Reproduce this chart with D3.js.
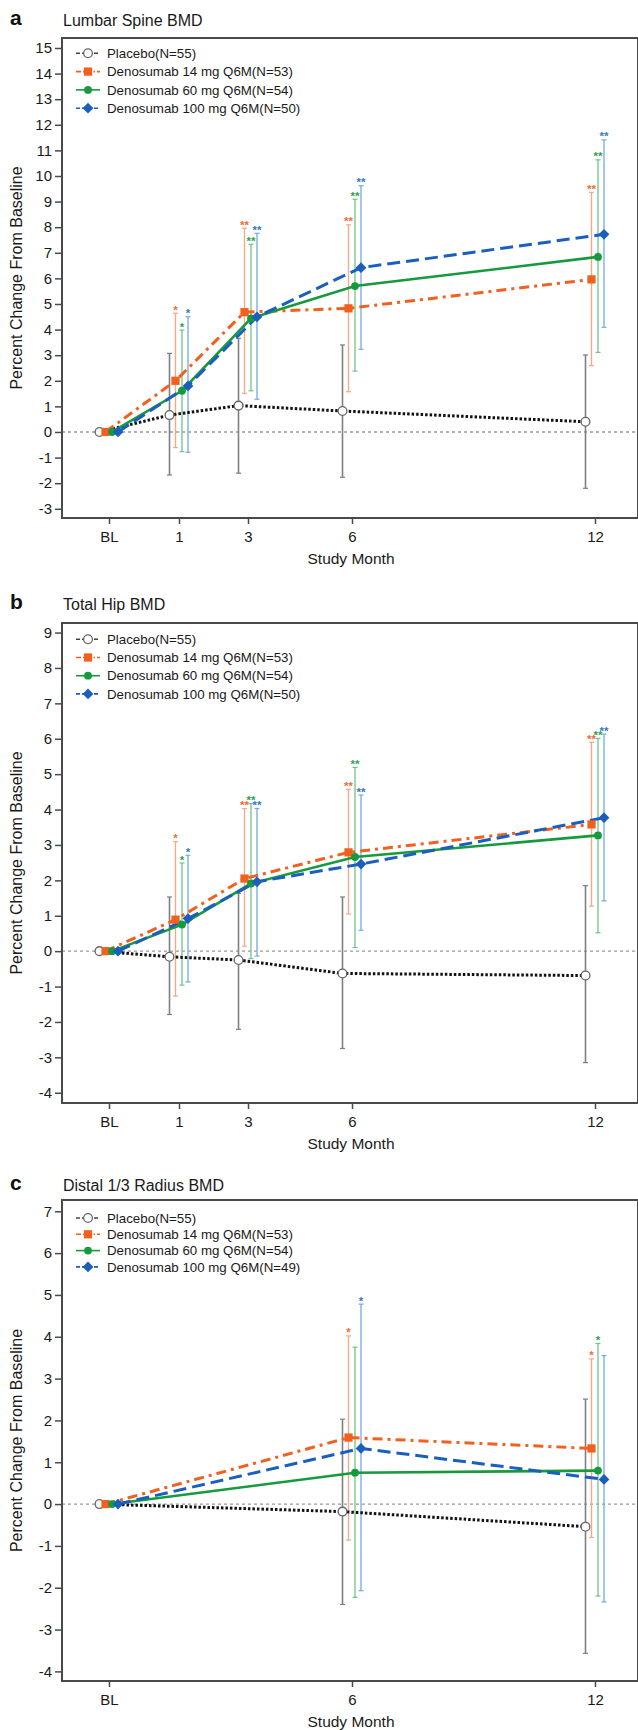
<!DOCTYPE html>
<html>
<head>
<meta charset="utf-8">
<script src="https://cdn.jsdelivr.net/npm/d3@7"></script>
<style>
  body { margin: 0; background: #fff; }
  svg { display: block; font-family: 'Liberation Sans', Arial, sans-serif; }
</style>
</head>
<body>
<div id="chart"></div>
<script>
// study months and labels
var months = [0, 1, 3, 6, 12]
var monthLabels = ['BL', '1', '3', '6', '12']
var radiusMonths = [0, 6, 12]
var radiusMonthLabels = ['BL', '6', '12']

var groupNames = ['Placebo(N=55)', 'Denosumab 14 mg Q6M(N=53)', 'Denosumab 60 mg Q6M(N=54)', 'Denosumab 100 mg Q6M(N=50)']
var radiusGroupNames = ['Placebo(N=55)', 'Denosumab 14 mg Q6M(N=53)', 'Denosumab 60 mg Q6M(N=54)', 'Denosumab 100 mg Q6M(N=49)']

// a: lumbar spine (mean, lower, upper)
var spinePlacebo = [0, 0.66, 1.03, 0.82, 0.40]
var spinePlaceboLow = [null, -1.68, -1.61, -1.77, -2.20]
var spinePlaceboHigh = [null, 3.07, 3.66, 3.40, 3.01]
var spine14 = [0, 2.00, 4.68, 4.83, 5.96]
var spine14Low = [null, -0.61, 1.51, 1.57, 2.59]
var spine14High = [null, 4.64, 7.96, 8.09, 9.36]
var spine60 = [0, 1.61, 4.44, 5.70, 6.84]
var spine60Low = [null, -0.77, 1.61, 2.38, 3.11]
var spine60High = [null, 3.98, 7.33, 9.09, 10.63]
var spine100 = [0, 1.80, 4.50, 6.42, 7.72]
var spine100Low = [null, -0.79, 1.28, 3.23, 4.09]
var spine100High = [null, 4.50, 7.76, 9.62, 11.41]
var spineStars = ['', '*', '**', '**', '**']

// b: total hip
var hipPlacebo = [0, -0.16, -0.25, -0.63, -0.69]
var hipPlaceboLow = [null, -1.79, -2.21, -2.75, -3.15]
var hipPlaceboHigh = [null, 1.53, 1.63, 1.53, 1.85]
var hip14 = [0, 0.89, 2.05, 2.79, 3.58]
var hip14Low = [null, -1.27, 0.14, 1.05, 1.27]
var hip14High = [null, 3.09, 4.03, 4.57, 5.90]
var hip60 = [0, 0.75, 1.91, 2.66, 3.27]
var hip60Low = [null, -0.96, -0.21, 0.10, 0.52]
var hip60High = [null, 2.49, 4.17, 5.19, 6.01]
var hip100 = [0, 0.92, 1.96, 2.46, 3.77]
var hip100Low = [null, -0.87, -0.14, 0.59, 1.42]
var hip100High = [null, 2.71, 4.03, 4.41, 6.13]
var hipStars = ['', '*', '**', '**', '**']

// c: distal 1/3 radius
var radiusPlacebo = [0, -0.18, -0.54]
var radiusPlaceboLow = [null, -2.40, -3.57]
var radiusPlaceboHigh = [null, 2.03, 2.51]
var radius14 = [0, 1.59, 1.33]
var radius14Low = [null, -0.86, -0.80]
var radius14High = [null, 4.02, 3.47]
var radius60 = [0, 0.75, 0.80]
var radius60Low = [null, -2.23, -2.20]
var radius60High = [null, 3.75, 3.84]
var radius100 = [0, 1.33, 0.59]
var radius100Low = [null, -2.07, -2.34]
var radius100High = [null, 4.78, 3.55]
var radius14Stars = ['', '*', '*']
var radius60Stars = ['', '', '*']
var radius100Stars = ['', '*', '']

var spineTicks = d3.range(-3, 16)
var hipTicks = d3.range(-4, 10)
var radiusTicks = d3.range(-4, 8)

function series(name, ms, mean, low, high, stars) {
  return {
    name: name,
    values: ms.map(function(m, i) {
      return { month: m, mean: mean[i], low: low[i], high: high[i], star: stars ? stars[i] : '' }
    })
  }
}

var panels = [
  {
    letter: 'a', title: 'Lumbar Spine BMD', top: 38, bottom: 518, titleY: 26,
    yDomain: [-3.36, 15.39], ticks: spineTicks, months: months, labels: monthLabels,
    legendStart: 15.3, legendStep: 18.3,
    series: [
      series(groupNames[0], months, spinePlacebo, spinePlaceboLow, spinePlaceboHigh),
      series(groupNames[1], months, spine14, spine14Low, spine14High, spineStars),
      series(groupNames[2], months, spine60, spine60Low, spine60High, spineStars),
      series(groupNames[3], months, spine100, spine100Low, spine100High, spineStars)
    ]
  },
  {
    letter: 'b', title: 'Total Hip BMD', top: 623, bottom: 1103, titleY: 610,
    yDomain: [-4.29, 9.27], ticks: hipTicks, months: months, labels: monthLabels,
    legendStart: 16.3, legendStep: 18.2,
    series: [
      series(groupNames[0], months, hipPlacebo, hipPlaceboLow, hipPlaceboHigh),
      series(groupNames[1], months, hip14, hip14Low, hip14High, hipStars),
      series(groupNames[2], months, hip60, hip60Low, hip60High, hipStars),
      series(groupNames[3], months, hip100, hip100Low, hip100High, hipStars)
    ]
  },
  {
    letter: 'c', title: 'Distal 1/3 Radius BMD', top: 1200, bottom: 1681, titleY: 1191,
    yDomain: [-4.23, 7.27], ticks: radiusTicks, months: radiusMonths, labels: radiusMonthLabels,
    legendStart: 18, legendStep: 16.3,
    series: [
      series(radiusGroupNames[0], radiusMonths, radiusPlacebo, radiusPlaceboLow, radiusPlaceboHigh),
      series(radiusGroupNames[1], radiusMonths, radius14, radius14Low, radius14High, radius14Stars),
      series(radiusGroupNames[2], radiusMonths, radius60, radius60Low, radius60High, radius60Stars),
      series(radiusGroupNames[3], radiusMonths, radius100, radius100Low, radius100High, radius100Stars)
    ]
  }
]

var styles = [
  { line: '#111', dash: '2.5 2', width: 3, legendLine: '#444', legendDash: '4 2', err: '#7f7f7f', errWidth: 1.6, fill: '#fff', stroke: '#666', symbol: d3.symbolCircle, size: 60, rotate: 0, star: '#666' },
  { line: '#f2601f', dash: '10 5 3 5', width: 3, legendLine: '#f2601f', legendDash: '5 2 1.5 2', err: '#f8a685', errWidth: 1.3, fill: '#f2601f', stroke: 'none', symbol: d3.symbolSquare, size: 68, rotate: 0, star: '#f26a33' },
  { line: '#159a3d', dash: null, width: 2.6, legendLine: '#159a3d', legendDash: null, err: '#6fc48a', errWidth: 1.3, fill: '#159a3d', stroke: 'none', symbol: d3.symbolCircle, size: 48, rotate: 0, star: '#2ea24f' },
  { line: '#1b5fbe', dash: '13 6', width: 3, legendLine: '#1b5fbe', legendDash: '4 2', err: '#74a9dd', errWidth: 1.3, fill: '#1b5fbe', stroke: 'none', symbol: d3.symbolSquare, size: 58, rotate: 45, star: '#3478c8' }
]
var offsets = [-9.5, -3.5, 3, 9]

var width = 638
var height = 1730
var left = 62
var right = 638

var svg = d3
  .select('#chart')
  .append('svg')
  .attr('width', width)
  .attr('height', height)

var xPositionScale = d3
  .scaleLinear()
  .domain([0, 1, 3, 6, 12])
  .range([109, 179, 248, 352, 595])

panels.forEach(function(p) {
  var g = svg.append('g')
  var yPositionScale = d3.scaleLinear().domain(p.yDomain).range([p.bottom, p.top])

  var xOf = function(d, si) {
    return xPositionScale(d.month) + offsets[si]
  }

  // zero reference line
  g.append('line')
    .attr('x1', left)
    .attr('x2', right)
    .attr('y1', yPositionScale(0))
    .attr('y2', yPositionScale(0))
    .attr('stroke', '#999')
    .attr('stroke-width', 1.4)
    .attr('stroke-dasharray', '3 3')

  // error bars
  p.series.forEach(function(s, si) {
    var st = styles[si]
    var pts = s.values.filter(function(d) { return d.low !== null })
    var eg = g.append('g')
    eg.selectAll('.bar')
      .data(pts)
      .enter()
      .append('line')
      .attr('x1', function(d) { return xOf(d, si) })
      .attr('x2', function(d) { return xOf(d, si) })
      .attr('y1', function(d) { return yPositionScale(d.low) })
      .attr('y2', function(d) { return yPositionScale(d.high) })
      .attr('stroke', st.err)
      .attr('stroke-width', st.errWidth)
    ;['low', 'high'].forEach(function(k) {
      eg.selectAll('.cap-' + k)
        .data(pts)
        .enter()
        .append('line')
        .attr('x1', function(d) { return xOf(d, si) - 2.5 })
        .attr('x2', function(d) { return xOf(d, si) + 2.5 })
        .attr('y1', function(d) { return yPositionScale(d[k]) })
        .attr('y2', function(d) { return yPositionScale(d[k]) })
        .attr('stroke', st.err)
        .attr('stroke-width', 1.2)
    })
    eg.selectAll('.star')
      .data(pts.filter(function(d) { return d.star }))
      .enter()
      .append('text')
      .text(function(d) { return d.star })
      .attr('x', function(d) { return xOf(d, si) })
      .attr('y', function(d) { return yPositionScale(d.high) + 0.5 })
      .attr('text-anchor', 'middle')
      .attr('font-size', 11.5)
      .attr('font-weight', 'bold')
      .attr('fill', st.star)
  })

  // lines
  p.series.forEach(function(s, si) {
    var st = styles[si]
    var line = d3
      .line()
      .x(function(d) { return xOf(d, si) })
      .y(function(d) { return yPositionScale(d.mean) })
    g.append('path')
      .datum(s.values)
      .attr('d', line)
      .attr('fill', 'none')
      .attr('stroke', st.line)
      .attr('stroke-width', st.width)
      .attr('stroke-dasharray', st.dash)
  })

  // markers
  p.series.forEach(function(s, si) {
    var st = styles[si]
    g.selectAll('.marker-' + si)
      .data(s.values)
      .enter()
      .append('path')
      .attr('d', d3.symbol().type(st.symbol).size(st.size))
      .attr('transform', function(d) {
        return 'translate(' + xOf(d, si) + ',' + yPositionScale(d.mean) + ') rotate(' + st.rotate + ')'
      })
      .attr('fill', st.fill)
      .attr('stroke', st.stroke)
      .attr('stroke-width', 1.3)
  })

  // frame
  g.append('rect')
    .attr('x', left)
    .attr('y', p.top)
    .attr('width', right - left)
    .attr('height', p.bottom - p.top)
    .attr('fill', 'none')
    .attr('stroke', '#4a4a4a')
    .attr('stroke-width', 2)

  var yAxis = d3
    .axisLeft(yPositionScale)
    .tickValues(p.ticks)
    .tickSize(7)
    .tickPadding(3)
    .tickFormat(function(d) { return String(d) })
  g.append('g')
    .attr('class', 'axis y-axis')
    .attr('transform', 'translate(' + left + ',0)')
    .call(yAxis)

  var xAxis = d3
    .axisBottom(xPositionScale)
    .tickValues(p.months)
    .tickSize(6)
    .tickPadding(7)
    .tickFormat(function(d, i) { return p.labels[i] })
  g.append('g')
    .attr('class', 'axis x-axis')
    .attr('transform', 'translate(0,' + p.bottom + ')')
    .call(xAxis)

  g.selectAll('.axis path').remove()
  g.selectAll('.axis line').attr('stroke', '#4a4a4a').attr('stroke-width', 1.5)
  g.selectAll('.axis text').attr('font-size', 15).attr('fill', '#1a1a1a').attr('font-family', null)

  g.append('text')
    .text('Study Month')
    .attr('x', 351)
    .attr('y', p.bottom + 45.5)
    .attr('text-anchor', 'middle')
    .attr('font-size', 15.5)
    .attr('fill', '#1a1a1a')

  g.append('text')
    .text('Percent Change From Baseline')
    .attr('transform', 'translate(22,' + (p.top + p.bottom) / 2 + ') rotate(-90)')
    .attr('text-anchor', 'middle')
    .attr('font-size', 16)
    .attr('fill', '#1a1a1a')

  g.append('text')
    .text(p.letter)
    .attr('x', 10)
    .attr('y', p.titleY - 1)
    .attr('font-size', 21)
    .attr('font-weight', 'bold')
    .attr('fill', '#111')

  g.append('text')
    .text(p.title)
    .attr('x', 63)
    .attr('y', p.titleY)
    .attr('font-size', 16)
    .attr('fill', '#1a1a1a')

  // legend
  var legend = g.append('g')
  p.series.forEach(function(s, si) {
    var st = styles[si]
    var ly = p.top + p.legendStart + si * p.legendStep
    legend.append('line')
      .attr('x1', 76)
      .attr('x2', 100)
      .attr('y1', ly)
      .attr('y2', ly)
      .attr('stroke', st.legendLine)
      .attr('stroke-width', 1.6)
      .attr('stroke-dasharray', st.legendDash)
    legend.append('path')
      .attr('d', d3.symbol().type(st.symbol).size(st.size))
      .attr('transform', 'translate(88,' + ly + ') rotate(' + st.rotate + ')')
      .attr('fill', st.fill)
      .attr('stroke', st.stroke)
      .attr('stroke-width', 1.3)
    legend.append('text')
      .text(s.name)
      .attr('x', 107)
      .attr('y', ly + 4.6)
      .attr('font-size', 13.3)
      .attr('fill', '#1a1a1a')
  })
})
</script>
</body>
</html>
